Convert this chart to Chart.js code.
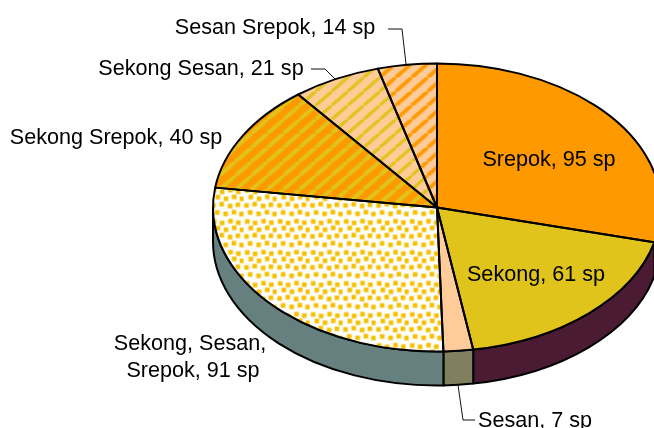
<!DOCTYPE html>
<html><head><meta charset="utf-8">
<style>html,body{margin:0;padding:0;background:#fff}#w{position:relative;width:654px;height:428px;overflow:hidden}canvas{display:block}</style>
<script src="https://cdn.jsdelivr.net/npm/chart.js@4/dist/chart.umd.min.js"></script>
</head><body><div id="w"><canvas id="c" width="654" height="428"></canvas></div>
<script>
const categories = ['Srepok','Sekong','Sesan','Sekong, Sesan, Srepok','Sekong Srepok','Sekong Sesan','Sesan Srepok'];
const species = [95,61,7,91,40,21,14];
const unit = 'sp';

const C = {cx:437, cy:207.5, rx:224, ry:144, depth:34};
const ORANGE='#FF9900', YELLOW='#E0C41C', PEACH='#FFCC99', DOT='#F6C000';
const wallColors = ['#4B1B33','#4B1B33','#80805F','#668080','#668080','#668080','#668080'];
const labelPlaces = [[549,160],[536,275],[535,421],[190,344],[116,138],[201,69],[275,28]];
const lineOffsets = [0,3];
const leaders = [[[388,29],[402,29],[406,64]],[[311,69],[325,69],[335,79]],[[458,385],[463,420],[475,420]]];
function labelFor(i){
  const text=`${categories[i]}, ${species[i]} ${unit}`;
  return i===3 ? ['Sekong, Sesan,',`Srepok, ${species[i]} ${unit}`] : [text];
}

const SX = C.rx/214, SY = C.ry/214;
function tile(w,h,fn){const t=document.createElement('canvas');t.width=w;t.height=h;fn(t.getContext('2d'),w,h);return t;}
function pat(t){const p=document.createElement('canvas').getContext('2d').createPattern(t,'repeat');
  p.setTransform(new DOMMatrix().scale(1/SX,1/SY));return p;}
function stripes(bg,fg,lw){return pat(tile(16,14,(g,w,h)=>{g.fillStyle=bg;g.fillRect(0,0,w,h);g.strokeStyle=fg;g.lineWidth=lw;
  for(const dx of [-w,0,w]){g.beginPath();g.moveTo(dx,h);g.lineTo(dx+w,0);g.stroke();}}));}
const dotCells=[[1.3,0.6],[9.2,2.1],[17.6,0.3],[25.4,1.8],[4.9,7.2],[13.1,8.9],[21.3,7.0],[29.0,9.0],
  [0.6,15.6],[8.8,14.3],[17.2,16.2],[25.0,14.9],[4.2,22.6],[12.7,24.0],[21.0,22.3],[28.6,24.2]];
const dots = pat(tile(33,31,(g,w,h)=>{g.fillStyle='#fff';g.fillRect(0,0,w,h);g.fillStyle=DOT;dotCells.forEach(([x,y])=>g.fillRect(x,y,4.6,4.6));}));
const fills=[ORANGE,YELLOW,PEACH,dots,stripes(ORANGE,YELLOW,4),stripes(PEACH,YELLOW,3.2),stripes(PEACH,ORANGE,3.8)];

const pie3d = {id:'pie3d',
  beforeDatasetsDraw(chart){
    const ctx=chart.ctx, arcs=chart.getDatasetMeta(0).data;
    ctx.save();
    ctx.lineWidth=2;ctx.strokeStyle='#000';ctx.lineJoin='round';
    arcs.forEach((el,i)=>{
      let s=el.startAngle, e=el.endAngle;
      const k=Math.floor(s/(2*Math.PI)); s-=k*2*Math.PI; e-=k*2*Math.PI;
      const a=Math.max(s,0), b=Math.min(e,Math.PI);
      if(b<=a) return;
      ctx.beginPath();
      ctx.ellipse(C.cx,C.cy,C.rx,C.ry,0,a,b,false);
      ctx.ellipse(C.cx,C.cy+C.depth,C.rx,C.ry,0,b,a,true);
      ctx.closePath();
      ctx.fillStyle=wallColors[i];ctx.fill();ctx.stroke();
    });
    ctx.restore();
    const el=arcs[0];
    ctx.save();
    ctx.translate(C.cx,C.cy);ctx.scale(SX,SY);ctx.translate(-el.x,-el.y);
  },
  afterDatasetsDraw(chart){
    const ctx=chart.ctx, arcs=chart.getDatasetMeta(0).data;
    ctx.restore();
    ctx.save();
    ctx.lineWidth=2;ctx.strokeStyle='#000';ctx.lineJoin='round';
    arcs.forEach(el=>{
      ctx.beginPath();ctx.moveTo(C.cx,C.cy);
      ctx.ellipse(C.cx,C.cy,C.rx,C.ry,0,el.startAngle,el.endAngle,false);
      ctx.closePath();ctx.stroke();
    });
    ctx.lineWidth=1;ctx.strokeStyle='#111';
    leaders.forEach(l=>{ctx.beginPath();l.forEach(([x,y],j)=>j?ctx.lineTo(x,y):ctx.moveTo(x,y));ctx.stroke();});
    ctx.fillStyle='#000';ctx.font='21.6px "Liberation Sans", Arial, sans-serif';
    ctx.textAlign='center';ctx.textBaseline='middle';
    labelPlaces.forEach(([x,y],i)=>labelFor(i).forEach((t,j)=>ctx.fillText(t,x+lineOffsets[j],y+j*27)));
    ctx.restore();
  }};

new Chart(document.getElementById('c'),{
  type:'pie',
  data:{labels:categories,datasets:[{data:species,backgroundColor:fills,borderWidth:0,clip:false}]},
  options:{responsive:false,animation:false,devicePixelRatio:1,events:[],
    layout:{padding:{left:220}},
    plugins:{legend:{display:false},tooltip:{enabled:false},title:{display:false}}},
  plugins:[pie3d]
});
</script></body></html>
